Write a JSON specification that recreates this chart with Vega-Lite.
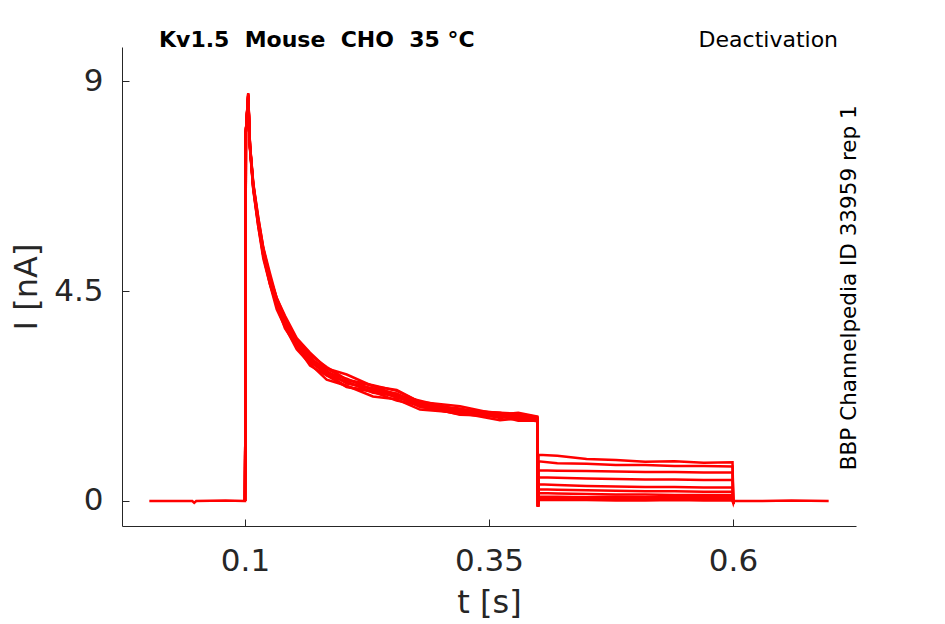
{
  "$schema": "https://vega.github.io/schema/vega-lite/v6.json",
  "description": "Kv1.5 deactivation current traces",
  "autosize": "none",
  "width": 734,
  "height": 479,
  "padding": {"left": 122, "top": 47, "right": 89, "bottom": 98},
  "background": "white",
  "title": {
    "text": "Kv1.5 \u00a0Mouse \u00a0CHO \u00a035 °C",
    "anchor": "start",
    "frame": "group",
    "dx": 37,
    "dy": 40,
    "baseline": "alphabetic",
    "offset": 0,
    "font": "DejaVu Sans",
    "fontSize": 22,
    "fontWeight": "bold",
    "color": "#000000"
  },
  "layer": [
    {
      "data": {
        "values": [
          {"s":1,"t":0.002,"i":0},{"s":1,"t":0.03,"i":0},{"s":1,"t":0.046,"i":0},{"s":1,"t":0.048,"i":-0.04},{"s":1,"t":0.05,"i":0},{"s":1,"t":0.08,"i":0.01},{"s":1,"t":0.0995,"i":0},
          {"s":1,"t":0.1,"i":0},{"s":1,"t":0.1003,"i":1.3},{"s":1,"t":0.1009,"i":7.9},{"s":1,"t":0.1033,"i":8.64},
          {"s":1,"t":0.1051,"i":7.55},{"s":1,"t":0.1085,"i":6.67},{"s":1,"t":0.1136,"i":5.88},{"s":1,"t":0.1188,"i":5.19},{"s":1,"t":0.1256,"i":4.64},{"s":1,"t":0.1325,"i":4.11},{"s":1,"t":0.141,"i":3.73},{"s":1,"t":0.153,"i":3.25},{"s":1,"t":0.1666,"i":2.94},{"s":1,"t":0.1837,"i":2.60},{"s":1,"t":0.2042,"i":2.47},{"s":1,"t":0.2311,"i":2.24},{"s":1,"t":0.2554,"i":2.18},{"s":1,"t":0.2793,"i":1.96},{"s":1,"t":0.3203,"i":1.89},{"s":1,"t":0.3613,"i":1.73},{"s":1,"t":0.38,"i":1.77},{"s":1,"t":0.3995,"i":1.71},
          {"s":1,"t":0.4002,"i":-0.12},{"s":1,"t":0.4008,"i":0.25},{"s":1,"t":0.42,"i":0.24},{"s":1,"t":0.45,"i":0.23},{"s":1,"t":0.48,"i":0.22},{"s":1,"t":0.51,"i":0.21},{"s":1,"t":0.54,"i":0.21},{"s":1,"t":0.57,"i":0.20},{"s":1,"t":0.5995,"i":0.20},
          {"s":1,"t":0.6003,"i":-0.05},{"s":1,"t":0.601,"i":0},{"s":1,"t":0.63,"i":0},{"s":1,"t":0.66,"i":0.01},{"s":1,"t":0.698,"i":0},

          {"s":2,"t":0.1,"i":0},{"s":2,"t":0.1003,"i":1.3},{"s":2,"t":0.1009,"i":7.9},{"s":2,"t":0.1033,"i":8.70},
          {"s":2,"t":0.1051,"i":7.56},{"s":2,"t":0.1085,"i":6.69},{"s":2,"t":0.1136,"i":5.89},{"s":2,"t":0.1188,"i":5.25},{"s":2,"t":0.1256,"i":4.64},{"s":2,"t":0.1325,"i":4.19},{"s":2,"t":0.141,"i":3.70},{"s":2,"t":0.153,"i":3.32},{"s":2,"t":0.1666,"i":2.90},{"s":2,"t":0.1837,"i":2.69},{"s":2,"t":0.2042,"i":2.44},{"s":2,"t":0.2311,"i":2.34},{"s":2,"t":0.2554,"i":2.15},{"s":2,"t":0.2793,"i":2.05},{"s":2,"t":0.3203,"i":1.85},{"s":2,"t":0.3613,"i":1.82},{"s":2,"t":0.38,"i":1.72},{"s":2,"t":0.3995,"i":1.72},
          {"s":2,"t":0.4002,"i":-0.12},{"s":2,"t":0.4008,"i":0.85},{"s":2,"t":0.42,"i":0.81},{"s":2,"t":0.45,"i":0.80},{"s":2,"t":0.48,"i":0.77},{"s":2,"t":0.51,"i":0.77},{"s":2,"t":0.54,"i":0.75},{"s":2,"t":0.57,"i":0.75},{"s":2,"t":0.5995,"i":0.74},
          {"s":2,"t":0.6003,"i":-0.05},{"s":2,"t":0.601,"i":0},

          {"s":3,"t":0.1,"i":0},{"s":3,"t":0.1003,"i":1.3},{"s":3,"t":0.1009,"i":7.9},{"s":3,"t":0.1033,"i":8.66},
          {"s":3,"t":0.1051,"i":7.58},{"s":3,"t":0.1085,"i":6.70},{"s":3,"t":0.1136,"i":5.94},{"s":3,"t":0.1188,"i":5.26},{"s":3,"t":0.1256,"i":4.66},{"s":3,"t":0.1325,"i":4.20},{"s":3,"t":0.141,"i":3.78},{"s":3,"t":0.153,"i":3.30},{"s":3,"t":0.1666,"i":2.98},{"s":3,"t":0.1837,"i":2.72},{"s":3,"t":0.2042,"i":2.45},{"s":3,"t":0.2311,"i":2.35},{"s":3,"t":0.2554,"i":2.24},{"s":3,"t":0.2793,"i":2.02},{"s":3,"t":0.3203,"i":1.86},{"s":3,"t":0.3613,"i":1.81},{"s":3,"t":0.38,"i":1.79},{"s":3,"t":0.3995,"i":1.74},
          {"s":3,"t":0.4002,"i":-0.12},{"s":3,"t":0.4008,"i":0.09},{"s":3,"t":0.42,"i":0.09},{"s":3,"t":0.45,"i":0.08},{"s":3,"t":0.48,"i":0.09},{"s":3,"t":0.51,"i":0.08},{"s":3,"t":0.54,"i":0.08},{"s":3,"t":0.57,"i":0.08},{"s":3,"t":0.5995,"i":0.08},
          {"s":3,"t":0.6003,"i":-0.05},{"s":3,"t":0.601,"i":0},

          {"s":4,"t":0.1,"i":0},{"s":4,"t":0.1003,"i":1.3},{"s":4,"t":0.1009,"i":7.9},{"s":4,"t":0.1033,"i":8.72},
          {"s":4,"t":0.1051,"i":7.59},{"s":4,"t":0.1085,"i":6.72},{"s":4,"t":0.1136,"i":5.96},{"s":4,"t":0.1188,"i":5.28},{"s":4,"t":0.1256,"i":4.73},{"s":4,"t":0.1325,"i":4.20},{"s":4,"t":0.141,"i":3.82},{"s":4,"t":0.153,"i":3.34},{"s":4,"t":0.1666,"i":3.03},{"s":4,"t":0.1837,"i":2.69},{"s":4,"t":0.2042,"i":2.56},{"s":4,"t":0.2311,"i":2.32},{"s":4,"t":0.2554,"i":2.26},{"s":4,"t":0.2793,"i":2.02},{"s":4,"t":0.3203,"i":1.94},{"s":4,"t":0.3613,"i":1.78},{"s":4,"t":0.38,"i":1.82},{"s":4,"t":0.3995,"i":1.75},
          {"s":4,"t":0.4002,"i":-0.12},{"s":4,"t":0.4008,"i":0.51},{"s":4,"t":0.42,"i":0.50},{"s":4,"t":0.45,"i":0.48},{"s":4,"t":0.48,"i":0.47},{"s":4,"t":0.51,"i":0.46},{"s":4,"t":0.54,"i":0.46},{"s":4,"t":0.57,"i":0.45},{"s":4,"t":0.5995,"i":0.45},
          {"s":4,"t":0.6003,"i":-0.05},{"s":4,"t":0.601,"i":0},

          {"s":5,"t":0.1,"i":0},{"s":5,"t":0.1003,"i":1.3},{"s":5,"t":0.1009,"i":7.9},{"s":5,"t":0.1033,"i":8.68},
          {"s":5,"t":0.1051,"i":7.60},{"s":5,"t":0.1085,"i":6.73},{"s":5,"t":0.1136,"i":5.95},{"s":5,"t":0.1188,"i":5.33},{"s":5,"t":0.1256,"i":4.72},{"s":5,"t":0.1325,"i":4.27},{"s":5,"t":0.141,"i":3.78},{"s":5,"t":0.153,"i":3.40},{"s":5,"t":0.1666,"i":2.98},{"s":5,"t":0.1837,"i":2.77},{"s":5,"t":0.2042,"i":2.52},{"s":5,"t":0.2311,"i":2.41},{"s":5,"t":0.2554,"i":2.21},{"s":5,"t":0.2793,"i":2.10},{"s":5,"t":0.3203,"i":1.89},{"s":5,"t":0.3613,"i":1.86},{"s":5,"t":0.38,"i":1.76},{"s":5,"t":0.3995,"i":1.76},
          {"s":5,"t":0.4002,"i":-0.12},{"s":5,"t":0.4008,"i":0.02},{"s":5,"t":0.42,"i":0.02},{"s":5,"t":0.45,"i":0.02},{"s":5,"t":0.48,"i":0.01},{"s":5,"t":0.51,"i":0.01},{"s":5,"t":0.54,"i":0.02},{"s":5,"t":0.57,"i":0.01},{"s":5,"t":0.5995,"i":0.01},
          {"s":5,"t":0.6003,"i":-0.05},{"s":5,"t":0.601,"i":0},

          {"s":6,"t":0.1,"i":0},{"s":6,"t":0.1003,"i":1.3},{"s":6,"t":0.1009,"i":7.9},{"s":6,"t":0.1033,"i":8.74},
          {"s":6,"t":0.1051,"i":7.60},{"s":6,"t":0.1085,"i":6.75},{"s":6,"t":0.1136,"i":6.00},{"s":6,"t":0.1188,"i":5.33},{"s":6,"t":0.1256,"i":4.73},{"s":6,"t":0.1325,"i":4.27},{"s":6,"t":0.141,"i":3.85},{"s":6,"t":0.153,"i":3.37},{"s":6,"t":0.1666,"i":3.05},{"s":6,"t":0.1837,"i":2.79},{"s":6,"t":0.2042,"i":2.52},{"s":6,"t":0.2311,"i":2.41},{"s":6,"t":0.2554,"i":2.30},{"s":6,"t":0.2793,"i":2.07},{"s":6,"t":0.3203,"i":1.91},{"s":6,"t":0.3613,"i":1.85},{"s":6,"t":0.38,"i":1.83},{"s":6,"t":0.3995,"i":1.76},
          {"s":6,"t":0.4002,"i":-0.12},{"s":6,"t":0.4008,"i":0.17},{"s":6,"t":0.42,"i":0.16},{"s":6,"t":0.45,"i":0.15},{"s":6,"t":0.48,"i":0.14},{"s":6,"t":0.51,"i":0.14},{"s":6,"t":0.54,"i":0.13},{"s":6,"t":0.57,"i":0.13},{"s":6,"t":0.5995,"i":0.13},
          {"s":6,"t":0.6003,"i":-0.05},{"s":6,"t":0.601,"i":0},

          {"s":7,"t":0.1,"i":0},{"s":7,"t":0.1003,"i":1.3},{"s":7,"t":0.1009,"i":7.9},{"s":7,"t":0.1033,"i":8.66},
          {"s":7,"t":0.1051,"i":7.61},{"s":7,"t":0.1085,"i":6.76},{"s":7,"t":0.1136,"i":6.00},{"s":7,"t":0.1188,"i":5.34},{"s":7,"t":0.1256,"i":4.79},{"s":7,"t":0.1325,"i":4.26},{"s":7,"t":0.141,"i":3.88},{"s":7,"t":0.153,"i":3.40},{"s":7,"t":0.1666,"i":3.09},{"s":7,"t":0.1837,"i":2.75},{"s":7,"t":0.2042,"i":2.62},{"s":7,"t":0.2311,"i":2.38},{"s":7,"t":0.2554,"i":2.30},{"s":7,"t":0.2793,"i":2.06},{"s":7,"t":0.3203,"i":1.98},{"s":7,"t":0.3613,"i":1.81},{"s":7,"t":0.38,"i":1.85},{"s":7,"t":0.3995,"i":1.77},
          {"s":7,"t":0.4002,"i":-0.12},{"s":7,"t":0.4008,"i":0.99},{"s":7,"t":0.42,"i":0.97},{"s":7,"t":0.45,"i":0.90},{"s":7,"t":0.48,"i":0.88},{"s":7,"t":0.51,"i":0.84},{"s":7,"t":0.54,"i":0.85},{"s":7,"t":0.57,"i":0.82},{"s":7,"t":0.5995,"i":0.83},
          {"s":7,"t":0.6003,"i":-0.05},{"s":7,"t":0.601,"i":0},

          {"s":8,"t":0.1,"i":0},{"s":8,"t":0.1003,"i":1.3},{"s":8,"t":0.1009,"i":7.9},{"s":8,"t":0.1033,"i":8.70},
          {"s":8,"t":0.1051,"i":7.62},{"s":8,"t":0.1085,"i":6.78},{"s":8,"t":0.1136,"i":6.01},{"s":8,"t":0.1188,"i":5.40},{"s":8,"t":0.1256,"i":4.79},{"s":8,"t":0.1325,"i":4.34},{"s":8,"t":0.141,"i":3.85},{"s":8,"t":0.153,"i":3.47},{"s":8,"t":0.1666,"i":3.05},{"s":8,"t":0.1837,"i":2.84},{"s":8,"t":0.2042,"i":2.59},{"s":8,"t":0.2311,"i":2.47},{"s":8,"t":0.2554,"i":2.27},{"s":8,"t":0.2793,"i":2.15},{"s":8,"t":0.3203,"i":1.94},{"s":8,"t":0.3613,"i":1.89},{"s":8,"t":0.38,"i":1.79},{"s":8,"t":0.3995,"i":1.78},
          {"s":8,"t":0.4002,"i":-0.12},{"s":8,"t":0.4008,"i":0.06},{"s":8,"t":0.42,"i":0.05},{"s":8,"t":0.45,"i":0.05},{"s":8,"t":0.48,"i":0.05},{"s":8,"t":0.51,"i":0.04},{"s":8,"t":0.54,"i":0.04},{"s":8,"t":0.57,"i":0.04},{"s":8,"t":0.5995,"i":0.04},
          {"s":8,"t":0.6003,"i":-0.05},{"s":8,"t":0.601,"i":0},

          {"s":9,"t":0.1,"i":0},{"s":9,"t":0.1003,"i":1.3},{"s":9,"t":0.1009,"i":7.9},{"s":9,"t":0.1033,"i":8.62},
          {"s":9,"t":0.1051,"i":7.64},{"s":9,"t":0.1085,"i":6.79},{"s":9,"t":0.1136,"i":6.06},{"s":9,"t":0.1188,"i":5.41},{"s":9,"t":0.1256,"i":4.81},{"s":9,"t":0.1325,"i":4.35},{"s":9,"t":0.141,"i":3.93},{"s":9,"t":0.153,"i":3.45},{"s":9,"t":0.1666,"i":3.13},{"s":9,"t":0.1837,"i":2.87},{"s":9,"t":0.2042,"i":2.60},{"s":9,"t":0.2311,"i":2.48},{"s":9,"t":0.2554,"i":2.36},{"s":9,"t":0.2793,"i":2.12},{"s":9,"t":0.3203,"i":1.95},{"s":9,"t":0.3613,"i":1.89},{"s":9,"t":0.38,"i":1.87},{"s":9,"t":0.3995,"i":1.80},
          {"s":9,"t":0.4002,"i":-0.12},{"s":9,"t":0.4008,"i":0.66},{"s":9,"t":0.42,"i":0.65},{"s":9,"t":0.45,"i":0.64},{"s":9,"t":0.48,"i":0.63},{"s":9,"t":0.51,"i":0.62},{"s":9,"t":0.54,"i":0.62},{"s":9,"t":0.57,"i":0.61},{"s":9,"t":0.5995,"i":0.61},
          {"s":9,"t":0.6003,"i":-0.05},{"s":9,"t":0.601,"i":0},

          {"s":10,"t":0.1,"i":0},{"s":10,"t":0.1003,"i":1.3},{"s":10,"t":0.1009,"i":7.9},{"s":10,"t":0.1033,"i":8.73},
          {"s":10,"t":0.1051,"i":7.65},{"s":10,"t":0.1085,"i":6.81},{"s":10,"t":0.1136,"i":6.08},{"s":10,"t":0.1188,"i":5.43},{"s":10,"t":0.1256,"i":4.88},{"s":10,"t":0.1325,"i":4.35},{"s":10,"t":0.141,"i":3.97},{"s":10,"t":0.153,"i":3.49},{"s":10,"t":0.1666,"i":3.18},{"s":10,"t":0.1837,"i":2.84},{"s":10,"t":0.2042,"i":2.71},{"s":10,"t":0.2311,"i":2.46},{"s":10,"t":0.2554,"i":2.38},{"s":10,"t":0.2793,"i":2.12},{"s":10,"t":0.3203,"i":2.03},{"s":10,"t":0.3613,"i":1.85},{"s":10,"t":0.38,"i":1.89},{"s":10,"t":0.3995,"i":1.81},
          {"s":10,"t":0.4002,"i":-0.12},{"s":10,"t":0.4008,"i":0.36},{"s":10,"t":0.42,"i":0.34},{"s":10,"t":0.45,"i":0.32},{"s":10,"t":0.48,"i":0.31},{"s":10,"t":0.51,"i":0.30},{"s":10,"t":0.54,"i":0.30},{"s":10,"t":0.57,"i":0.29},{"s":10,"t":0.5995,"i":0.29},
          {"s":10,"t":0.6003,"i":-0.05},{"s":10,"t":0.601,"i":0}
        ]
      },
      "mark": {"type": "line", "color": "#ff0000", "strokeWidth": 2.5},
      "encoding": {
        "x": {
          "field": "t",
          "type": "quantitative",
          "title": "t [s]",
          "scale": {"domain": [-0.026, 0.726], "nice": false, "zero": false},
          "axis": {"values": [0.1, 0.35, 0.6], "format": ".3~g", "labelPadding": 27, "titlePadding": 11}
        },
        "y": {
          "field": "i",
          "type": "quantitative",
          "title": "I [nA]",
          "scale": {"domain": [-0.536, 9.729], "nice": false, "zero": false},
          "axis": {"values": [0, 4.5, 9], "format": ".3~g", "labelPadding": 26, "titlePadding": 10}
        },
        "detail": {"field": "s", "type": "nominal"}
      }
    },
    {
      "data": {"values": [{"label": "Deactivation"}]},
      "mark": {"type": "text", "align": "right", "baseline": "alphabetic", "font": "DejaVu Sans", "fontSize": 22, "color": "#000000"},
      "encoding": {
        "x": {"datum": 0.7076},
        "y": {"datum": 9.729},
        "text": {"field": "label"}
      }
    },
    {
      "data": {"values": [{"label": "BBP Channelpedia ID 33959 rep 1"}]},
      "mark": {"type": "text", "angle": 270, "align": "center", "baseline": "alphabetic", "font": "DejaVu Sans", "fontSize": 21.5, "color": "#000000"},
      "encoding": {
        "x": {"datum": 0.726},
        "y": {"datum": 4.57},
        "text": {"field": "label"}
      }
    }
  ],
  "config": {
    "view": {"stroke": null},
    "axis": {
      "grid": false,
      "domainColor": "#262626",
      "domainWidth": 1,
      "tickColor": "#262626",
      "tickSize": -7,
      "tickWidth": 1,
      "labelFont": "DejaVu Sans",
      "labelFontSize": 31,
      "labelColor": "#262626",
      "titleFont": "DejaVu Sans",
      "titleFontSize": 32,
      "titleFontWeight": "normal",
      "titleColor": "#262626"
    }
  }
}
